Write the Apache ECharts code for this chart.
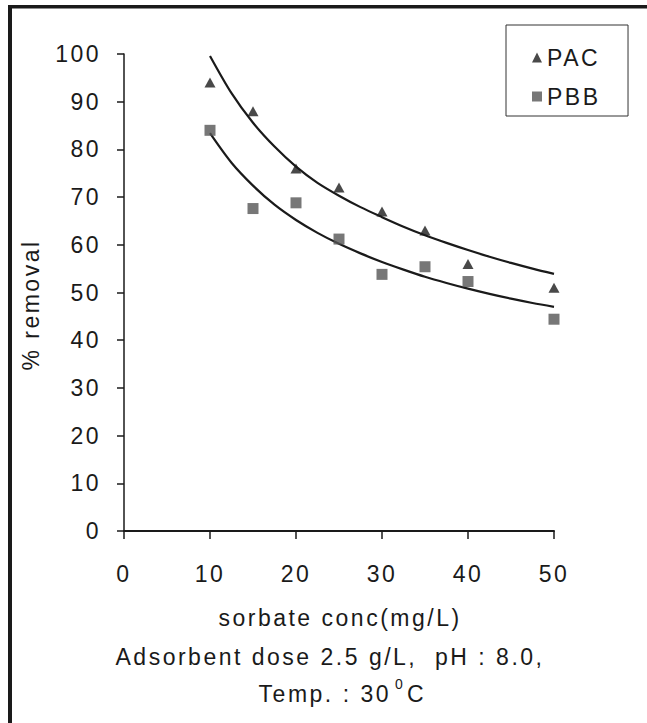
<!DOCTYPE html>
<html>
<head>
<meta charset="utf-8">
<script src="https://cdn.jsdelivr.net/npm/echarts@6/dist/echarts.min.js"></script>
<style>
html,body{margin:0;padding:0;background:#fff;}
#chart{width:647px;height:723px;}
#chart svg text{letter-spacing:2.5px;}
</style>
</head>
<body>
<div id="chart"></div>
<script>
// sorbate concentration (mg/L)
const xValues = [10, 15, 20, 25, 30, 35, 40, 50];
// % removal measured
const pacRemoval = [94, 88, 76, 72, 67, 63, 56, 51];
const pbbRemoval = [84, 67.6, 68.8, 61.2, 53.8, 55.4, 52.3, 44.4];
// fitted trend curves
const fitX   = [10, 12.5, 15, 17.5, 20, 22.5, 25, 27.5, 30, 32.5, 35, 37.5, 40, 42.5, 45, 47.5, 50];
const pacFit = [99.6, 91.8, 85.6, 80.6, 76.4, 73.0, 70.3, 67.9, 65.8, 63.8, 62.0, 60.4, 58.9, 57.5, 56.2, 55.0, 53.9];
const pbbFit = [83.4, 77.2, 72.4, 68.4, 65.2, 62.5, 60.2, 58.2, 56.4, 54.8, 53.3, 52.0, 50.8, 49.7, 48.7, 47.8, 47.0];
const xTicks = [0, 10, 20, 30, 40, 50];
const yTicks = [0, 10, 20, 30, 40, 50, 60, 70, 80, 90, 100];
const seriesNames = ['PAC', 'PBB'];

const FONT = "'Liberation Sans', Arial, sans-serif";
const FS = 23;
const INK = '#1a1a1a';

const pair = (xs, ys) => xs.map((x, i) => [x, ys[i]]);

const chart = echarts.init(document.getElementById('chart'), null, {renderer: 'svg'});
chart.setOption({
  animation: false,
  backgroundColor: '#fff',
  textStyle: {fontFamily: FONT, color: INK},
  grid: {left: 124, right: 93, top: 54, bottom: 192, containLabel: false},
  xAxis: {
    type: 'value', min: xTicks[0], max: xTicks[xTicks.length - 1], interval: 10,
    axisLine: {show: true, onZero: false, lineStyle: {color: INK, width: 2}},
    axisTick: {show: true, inside: false, length: 8, lineStyle: {color: INK, width: 1.5}},
    axisLabel: {margin: 31, fontSize: FS, color: INK, fontFamily: FONT},
    splitLine: {show: false}
  },
  yAxis: {
    type: 'value', min: yTicks[0], max: yTicks[yTicks.length - 1], interval: 10,
    axisLine: {show: true, onZero: false, lineStyle: {color: INK, width: 1.5}},
    axisTick: {show: true, inside: false, length: 7, lineStyle: {color: INK, width: 1.5}},
    axisLabel: {margin: 23, fontSize: FS, color: INK, fontFamily: FONT},
    splitLine: {show: false}
  },
  legend: {
    data: seriesNames,
    orient: 'vertical',
    left: 506, top: 25,
    padding: [21, 35, 8, 26],
    itemGap: 16,
    itemWidth: 10, itemHeight: 10,
    borderColor: '#333', borderWidth: 1,
    textStyle: {fontSize: FS, color: INK, fontFamily: FONT}
  },
  graphic: [
    {type: 'rect', shape: {x: 8, y: 5, width: 639, height: 3.5}, style: {fill: INK}, silent: true},
    {type: 'rect', shape: {x: 8, y: 5, width: 4, height: 718}, style: {fill: INK}, silent: true},
    {type: 'text', x: 31, y: 305, rotation: Math.PI / 2,
      style: {text: '% removal', fontSize: FS, fontFamily: FONT, fill: INK, align: 'center', verticalAlign: 'middle'}},
    {type: 'text', x: 340, y: 618,
      style: {text: 'sorbate conc(mg/L)', fontSize: FS, fontFamily: FONT, fill: INK, align: 'center', verticalAlign: 'middle'}},
    {type: 'text', x: 330, y: 657,
      style: {text: 'Adsorbent dose 2.5 g/L,  pH : 8.0,', fontSize: FS, fontFamily: FONT, fill: INK, align: 'center', verticalAlign: 'middle'}},
    {type: 'text', x: 391, y: 694,
      style: {text: 'Temp. : 30', fontSize: FS, fontFamily: FONT, fill: INK, align: 'right', verticalAlign: 'middle'}},
    {type: 'text', x: 395, y: 684,
      style: {text: '0', fontSize: 14, fontFamily: FONT, fill: INK, align: 'left', verticalAlign: 'middle'}},
    {type: 'text', x: 407, y: 694,
      style: {text: 'C', fontSize: FS, fontFamily: FONT, fill: INK, align: 'left', verticalAlign: 'middle'}}
  ],
  series: [
    {name: 'PAC', type: 'scatter', symbol: 'triangle', symbolSize: [11, 10],
      itemStyle: {color: '#1c1c1c'}, data: pair(xValues, pacRemoval), z: 3},
    {name: 'PBB', type: 'scatter', symbol: 'rect', symbolSize: 11,
      itemStyle: {color: '#555'}, data: pair(xValues, pbbRemoval), z: 3},
    {name: 'PAC fit', type: 'line', smooth: 0.3, showSymbol: false, symbol: 'none',
      lineStyle: {color: INK, width: 2.2}, data: pair(fitX, pacFit), z: 2},
    {name: 'PBB fit', type: 'line', smooth: 0.3, showSymbol: false, symbol: 'none',
      lineStyle: {color: INK, width: 2.2}, data: pair(fitX, pbbFit), z: 2}
  ]
});
</script>
</body>
</html>
